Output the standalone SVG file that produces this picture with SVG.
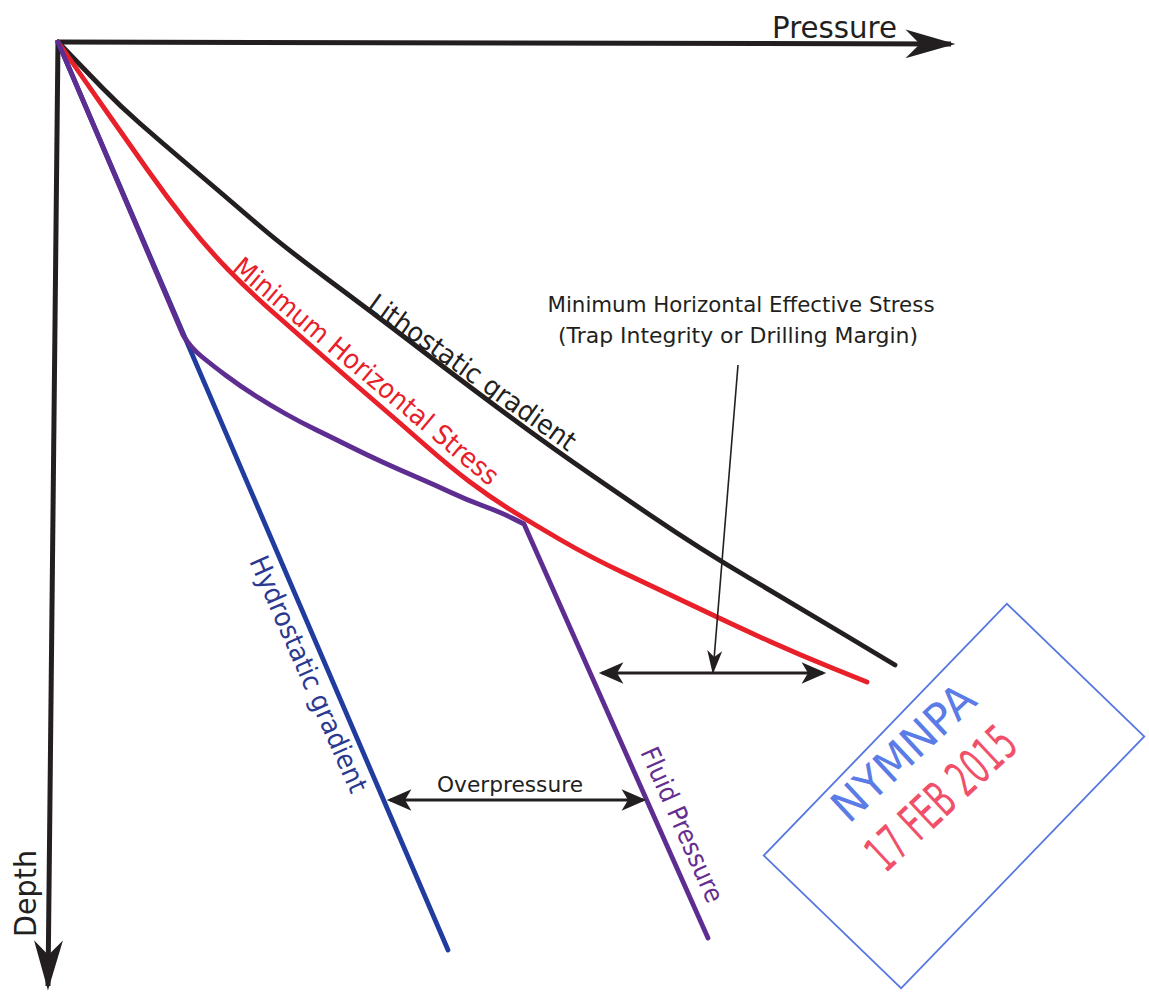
<svg xmlns="http://www.w3.org/2000/svg" width="1149" height="992" viewBox="0 0 1149 992">
<style>
text{font-family:"DejaVu Sans","Liberation Sans",Arial,sans-serif;}
.curve{fill:none;stroke-width:4.8;stroke-linejoin:round;stroke-linecap:round;}
.axis{fill:none;stroke:#231f20;stroke-width:5;}
.dim{fill:none;stroke:#231f20;stroke-width:3;}
.lbl{font-size:22px;fill:#231f20;}
.clbl{font-size:27px;}
</style>
<defs>
<marker id="ah" markerUnits="userSpaceOnUse" markerWidth="30" markerHeight="30" viewBox="-25 -12 28 24" refX="-3" refY="0" orient="auto-start-reverse" overflow="visible">
<path d="M0,0 L-23,-10 L-17,0 L-23,10 Z" fill="#231f20"/>
</marker>
<marker id="ahs" markerUnits="userSpaceOnUse" markerWidth="30" markerHeight="30" viewBox="-25 -12 28 24" refX="-2" refY="0" orient="auto" overflow="visible">
<path d="M0,0 L-22,-7 L-16,0 L-22,7 Z" fill="#231f20"/>
</marker>
<marker id="axh" markerUnits="userSpaceOnUse" markerWidth="60" markerHeight="40" viewBox="-50 -15 54 30" refX="-4" refY="0" orient="auto" overflow="visible">
<path d="M0,0 L-45,-13 L-32,0 L-45,13 Z" fill="#231f20"/>
</marker>
</defs>
<rect width="1149" height="992" fill="#ffffff"/>

<g id="axes">
<line class="axis" x1="57" y1="42" x2="951" y2="44" marker-end="url(#axh)"/>
<line class="axis" x1="58" y1="40" x2="48" y2="986" marker-end="url(#axh)"/>
<text id="pressure-label" x="772" y="38" font-size="30" fill="#231f20" textLength="125" lengthAdjust="spacingAndGlyphs">Pressure</text>
<text id="depth-label" transform="translate(36,937) rotate(-90)" font-size="30" fill="#231f20" textLength="87" lengthAdjust="spacingAndGlyphs">Depth</text>
</g>

<g id="hydrostatic">
<path class="curve" stroke="#1f3c9e" d="M58,42 L448,950"/>
<text class="clbl" fill="#2b3990" transform="translate(249,561) rotate(66.4)" textLength="255" lengthAdjust="spacingAndGlyphs">Hydrostatic gradient</text>
</g>

<g id="lithostatic">
<path class="curve" stroke="#231f20" d="M58,42 L71.5,56 Q85,70 102.5,88 Q120,106 140,123.5 Q160,141 180,158 Q200,175 220,192 Q240,209 261.5,227.5 Q283,246 328,279.5 Q373,313 411.5,342.5 Q450,372 491.5,403 Q533,434 566.5,457.5 Q600,481 650,515 Q700,549 750,578.5 Q800,608 847.5,636.5 L895,665"/>
<text class="clbl" fill="#231f20" transform="translate(366,308) rotate(35.5)" textLength="248" lengthAdjust="spacingAndGlyphs">Lithostatic gradient</text>
</g>

<g id="min-horizontal-stress">
<path class="curve" stroke="#e8202a" d="M58,42 L74,65 Q90,88 110,116.5 Q130,145 148,170.5 Q166,196 186.5,222 Q207,248 228.5,270 Q250,292 275,314 Q300,336 325,358 Q350,380 375,401.5 Q400,423 425,445 Q450,467 470,482 Q490,497 510,509.5 Q530,522 560,539.5 Q590,557 623,572.5 Q656,588 698,608 Q740,628 770,641.5 Q800,655 833.5,668.5 L867,682"/>
<text class="clbl" fill="#e8202a" transform="translate(231,270) rotate(40)" textLength="337" lengthAdjust="spacingAndGlyphs">Minimum Horizontal Stress</text>
</g>

<g id="fluid-pressure">
<path class="curve" stroke="#5e2d91" d="M58,42 L183,335 Q190,347 201,356 Q212,365 226,375.5 Q240,386 255,395.5 Q270,405 285,413.5 Q300,422 316.5,430 Q333,438 350,446.5 Q367,455 383.5,462.5 Q400,470 417.5,477.5 Q435,485 451,492.5 Q467,500 483.5,506 Q500,512 512,518 L524,524 L708,938"/>
<text font-size="26" fill="#662d91" transform="translate(640,752) rotate(66)" textLength="167" lengthAdjust="spacingAndGlyphs">Fluid Pressure</text>
</g>

<g id="effective-stress-label">
<text class="lbl" x="741" y="312" text-anchor="middle" textLength="387" lengthAdjust="spacingAndGlyphs">Minimum Horizontal Effective Stress</text>
<text class="lbl" x="738" y="343" text-anchor="middle" textLength="360" lengthAdjust="spacingAndGlyphs">(Trap Integrity or Drilling Margin)</text>
</g>

<g id="overpressure-label">
<text class="lbl" x="510" y="792" text-anchor="middle" textLength="146" lengthAdjust="spacingAndGlyphs">Overpressure</text>
</g>

<g id="connectors">
<line class="dim" x1="602" y1="673" x2="823" y2="673" marker-start="url(#ah)" marker-end="url(#ah)"/>
<line x1="738" y1="365" x2="713" y2="672" stroke="#231f20" stroke-width="1.6" marker-end="url(#ahs)"/>
<line class="dim" x1="390" y1="800" x2="643" y2="800" marker-start="url(#ah)" marker-end="url(#ah)"/>
</g>

<g id="stamp">
<rect transform="translate(954,796) rotate(-46)" x="-175" y="-95.5" width="350" height="191" fill="none" stroke="#5577e0" stroke-width="1.8"/>
<text transform="translate(903,752) rotate(-43)" x="0" y="16" text-anchor="middle" font-size="44" fill="#5b7be6" font-family="'DejaVu Sans Condensed','Liberation Sans',sans-serif" textLength="178" lengthAdjust="spacingAndGlyphs">NYMNPA</text>
<text transform="translate(940,797) rotate(-43)" x="0" y="19" text-anchor="middle" font-size="50" fill="#f0506a" font-family="'DejaVu Sans Condensed','Liberation Sans',sans-serif" textLength="185" lengthAdjust="spacingAndGlyphs">17 FEB 2015</text>
</g>
</svg>
